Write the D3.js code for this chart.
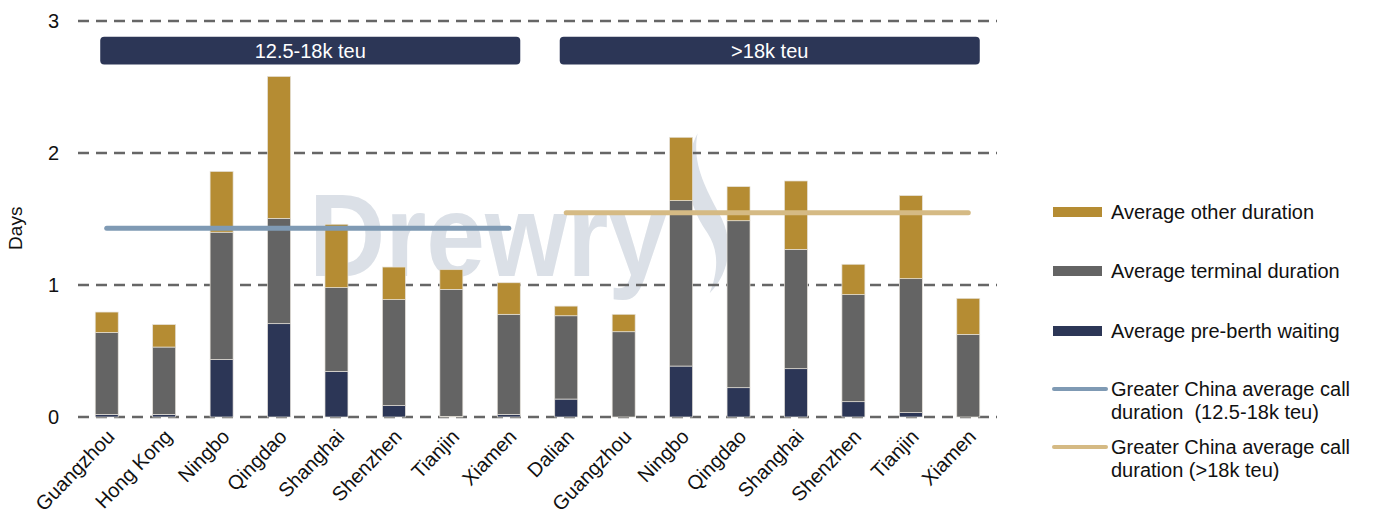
<!DOCTYPE html>
<html>
<head>
<meta charset="utf-8">
<script src="https://cdn.jsdelivr.net/npm/d3@7"></script>
<style>
  body { margin: 0; background: #fff; }
  svg { font-family: "Helvetica Neue", Helvetica, Arial, "Liberation Sans", sans-serif; }
  text { white-space: pre; }
</style>
</head>
<body>
<div id="vis"></div>
<script>
// chart data
const PORTS = ["Guangzhou", "Hong Kong", "Ningbo", "Qingdao", "Shanghai", "Shenzhen", "Tianjin", "Xiamen",
               "Dalian", "Guangzhou", "Ningbo", "Qingdao", "Shanghai", "Shenzhen", "Tianjin", "Xiamen"];
const PRE_BERTH = [0.02, 0.02, 0.435, 0.707, 0.346, 0.086, 0.005, 0.02,
                   0.136, 0.0, 0.386, 0.222, 0.366, 0.116, 0.033, 0.0];
const TERMINAL = [0.62, 0.51, 0.965, 0.798, 0.634, 0.803, 0.962, 0.758,
                  0.631, 0.646, 1.253, 1.265, 0.904, 0.811, 1.015, 0.626];
const OTHER = [0.155, 0.17, 0.46, 1.075, 0.48, 0.247, 0.149, 0.239,
               0.073, 0.132, 0.48, 0.258, 0.518, 0.23, 0.629, 0.273];
const GROUP_LABELS = ["12.5-18k teu", ">18k teu"];
const GROUP_SIZE = 8;
const AVG_CALL = [1.43, 1.548];
const Y_TICKS = [0, 1, 2, 3];

const SERIES = ["pre", "terminal", "other"];
const COLORS = {pre: "#2c3656", terminal: "#646464", other: "#b58c33"};
const LINE_COLORS = ["#7f9ab4", "#d5ba84"];

const FRAME_WIDTH = 1378;
const FRAME_HEIGHT = 520;
const MARGINS = {left: 78, right: 381, top: 21, bottom: 103};

// table for the stack layout
const table = PORTS.map((p, i) => ({
  key: i, port: p, pre: PRE_BERTH[i], terminal: TERMINAL[i], other: OTHER[i]
}));

const svg = d3.select("#vis")
  .append("svg")
    .attr("width", FRAME_WIDTH)
    .attr("height", FRAME_HEIGHT);

const X_SCALE = d3.scaleBand()
  .domain(table.map(d => d.key))
  .range([MARGINS.left, FRAME_WIDTH - MARGINS.right])
  .paddingInner(0.6)
  .paddingOuter(0.3);

const Y_SCALE = d3.scaleLinear()
  .domain([0, 3])
  .range([FRAME_HEIGHT - MARGINS.bottom, MARGINS.top]);

// watermark
const wm = svg.append("g").attr("fill", "#dbe0e7");
wm.append("text")
  .attr("x", X_SCALE(4) - 16)
  .attr("y", Y_SCALE(1.07))
  .attr("font-size", 116)
  .attr("font-weight", "bold")
  .attr("textLength", 358)
  .attr("lengthAdjust", "spacingAndGlyphs")
  .text("Drewry");
wm.append("path")
  .attr("transform", "translate(" + (X_SCALE(10) + 30) + "," + Y_SCALE(2.15) + ")")
  .attr("d", "M -2 0 C -18 30 -14 70 8 100 C 18 115 20 135 10 160 C 30 140 34 110 22 85 C 6 55 -8 30 -2 0 Z");

// gridlines + y labels
svg.append("g")
  .selectAll("line")
  .data(Y_TICKS)
  .enter()
  .append("line")
    .attr("x1", MARGINS.left)
    .attr("x2", FRAME_WIDTH - MARGINS.right)
    .attr("y1", d => Y_SCALE(d))
    .attr("y2", d => Y_SCALE(d))
    .attr("stroke", "#666")
    .attr("stroke-width", 2.5)
    .attr("stroke-dasharray", "11,7");

const yAxis = svg.append("g")
  .attr("transform", "translate(" + (MARGINS.left - 19) + ",0)")
  .call(d3.axisLeft(Y_SCALE).tickValues(Y_TICKS).tickFormat(d3.format("d")).tickSize(0).tickPadding(0));
yAxis.select(".domain").remove();
yAxis.selectAll("text")
  .attr("font-size", 20)
  .attr("fill", "#111")
  .attr("font-family", null);

svg.append("text")
  .attr("transform", "translate(22," + Y_SCALE(1.43) + ") rotate(-90)")
  .attr("text-anchor", "middle")
  .attr("font-size", 19)
  .attr("fill", "#111")
  .text("Days");

// stacked bars
const stack = d3.stack().keys(SERIES)(table);
svg.append("g")
  .selectAll("g")
  .data(stack)
  .enter()
  .append("g")
    .attr("fill", d => COLORS[d.key])
  .selectAll("rect")
  .data(d => d)
  .enter()
  .append("rect")
    .attr("x", d => X_SCALE(d.data.key))
    .attr("y", d => Y_SCALE(d[1]))
    .attr("width", X_SCALE.bandwidth())
    .attr("height", d => Y_SCALE(d[0]) - Y_SCALE(d[1]))
    .attr("stroke", "#e6e2da")
    .attr("stroke-width", 0.7);

// group average lines
const half = X_SCALE.bandwidth() / 2;
svg.append("g")
  .selectAll("line")
  .data(AVG_CALL)
  .enter()
  .append("line")
    .attr("x1", (d, i) => X_SCALE(i * GROUP_SIZE) + half)
    .attr("x2", (d, i) => X_SCALE(i * GROUP_SIZE + GROUP_SIZE - 1) + half)
    .attr("y1", d => Y_SCALE(d))
    .attr("y2", d => Y_SCALE(d))
    .attr("stroke", (d, i) => LINE_COLORS[i])
    .attr("stroke-width", 5)
    .attr("stroke-linecap", "round");

// group header boxes
const headers = svg.append("g")
  .selectAll("g")
  .data(GROUP_LABELS)
  .enter()
  .append("g");
headers.append("rect")
  .attr("x", (d, i) => X_SCALE(i * GROUP_SIZE) + 5)
  .attr("y", Y_SCALE(2.88))
  .attr("width", (d, i) => X_SCALE(i * GROUP_SIZE + GROUP_SIZE - 1) + X_SCALE.bandwidth() - X_SCALE(i * GROUP_SIZE) - 5)
  .attr("height", Y_SCALE(2.67) - Y_SCALE(2.88))
  .attr("rx", 4)
  .attr("fill", "#2c3656");
headers.append("text")
  .attr("x", (d, i) => (X_SCALE(i * GROUP_SIZE) + 5 + X_SCALE(i * GROUP_SIZE + GROUP_SIZE - 1) + X_SCALE.bandwidth()) / 2)
  .attr("y", Y_SCALE(2.775))
  .attr("dy", "0.35em")
  .attr("text-anchor", "middle")
  .attr("font-size", 20)
  .attr("fill", "#fff")
  .text(d => d);

// x labels
svg.append("g")
  .selectAll("text")
  .data(table)
  .enter()
  .append("text")
    .attr("transform", d => "translate(" + (X_SCALE(d.key) + half + 4) + "," + (Y_SCALE(0) + 16) + ") rotate(-46)")
    .attr("text-anchor", "end")
    .attr("dy", "0.35em")
    .attr("font-size", 20)
    .attr("fill", "#111")
    .text(d => d.port);

// legend
const LEGEND_X = 1053;
const legendItems = [
  {label: ["Average other duration"], type: "rect", color: COLORS.other, y: 212},
  {label: ["Average terminal duration"], type: "rect", color: COLORS.terminal, y: 271},
  {label: ["Average pre-berth waiting"], type: "rect", color: COLORS.pre, y: 331},
  {label: ["Greater China average call", "duration  (12.5-18k teu)"], type: "line", color: LINE_COLORS[0], y: 389},
  {label: ["Greater China average call", "duration (>18k teu)"], type: "line", color: LINE_COLORS[1], y: 447}
];
const legend = svg.append("g")
  .selectAll("g")
  .data(legendItems)
  .enter()
  .append("g")
    .attr("transform", d => "translate(" + LEGEND_X + "," + d.y + ")");
legend.filter(d => d.type === "rect")
  .append("rect")
    .attr("x", 0)
    .attr("y", -5)
    .attr("width", 49)
    .attr("height", 10)
    .attr("fill", d => d.color);
legend.filter(d => d.type === "line")
  .append("line")
    .attr("x1", 1)
    .attr("x2", 53)
    .attr("stroke", d => d.color)
    .attr("stroke-width", 4)
    .attr("stroke-linecap", "round");
legend.append("text")
  .attr("x", 58)
  .attr("font-size", 20)
  .attr("fill", "#111")
  .selectAll("tspan")
  .data(d => d.label)
  .enter()
  .append("tspan")
    .attr("x", 58)
    .attr("y", (d, i) => i * 22.5)
    .attr("dy", "0.35em")
    .text(d => d);
</script>
</body>
</html>
